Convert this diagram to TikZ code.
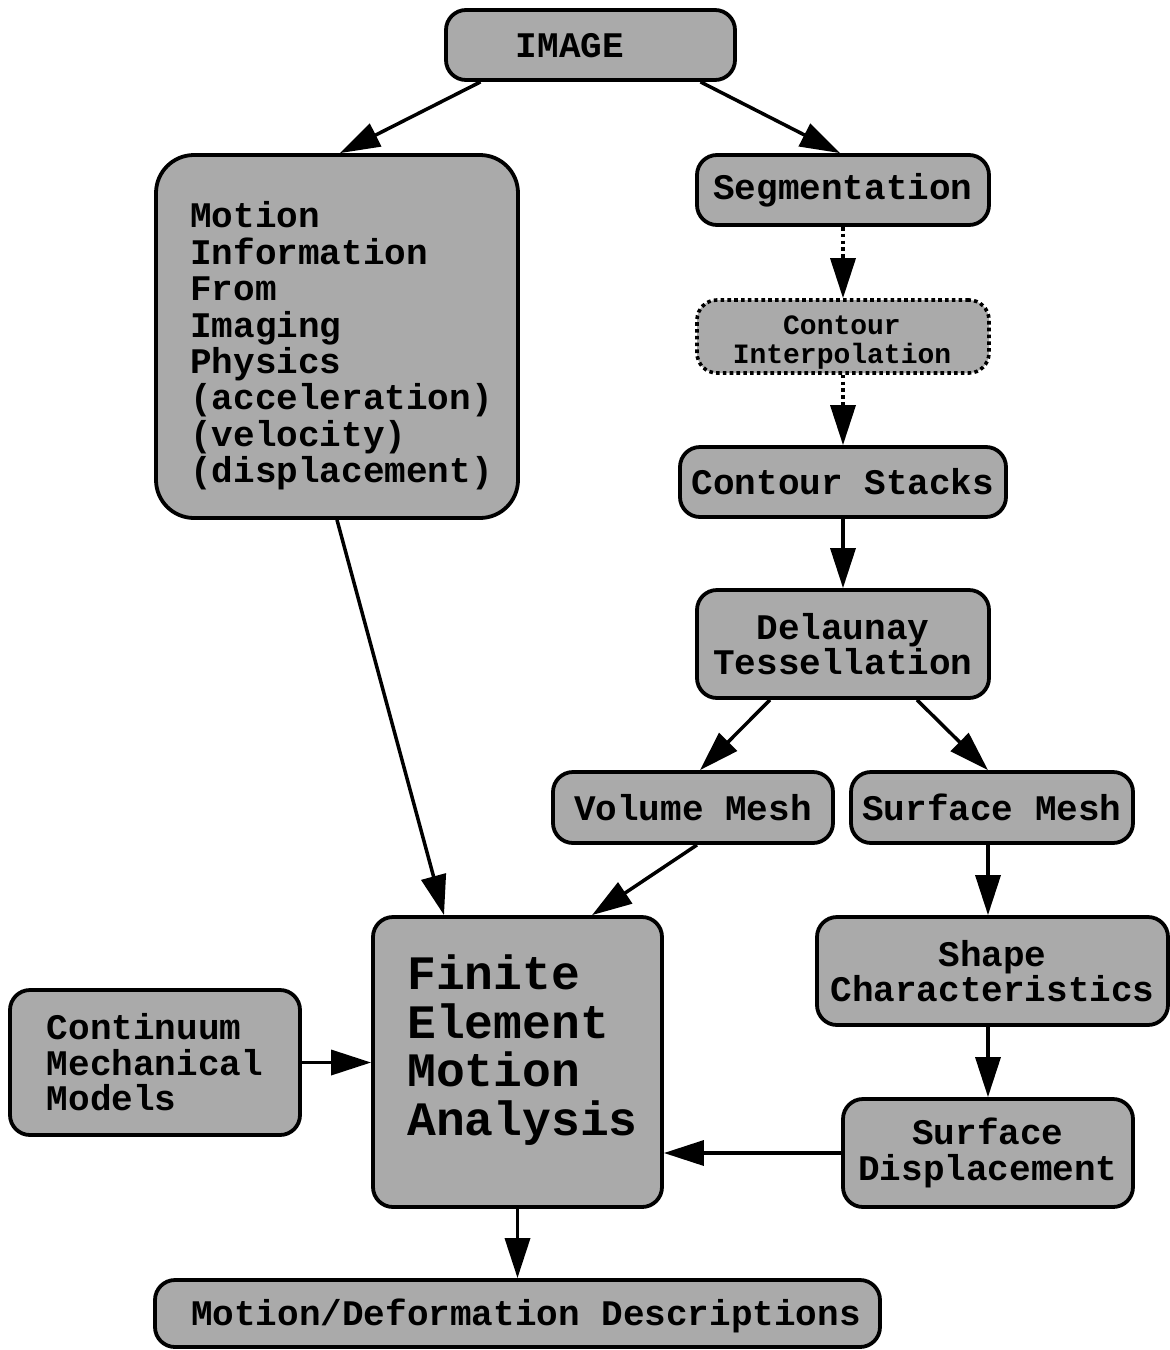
\documentclass[tikz,border=0pt]{standalone}
\usepackage{fontspec}
\newfontfamily\cour{Liberation Mono}
\usetikzlibrary{arrows.meta}
\definecolor{boxgray}{RGB}{170,170,170}
\begin{document}
\begin{tikzpicture}[x=1pt,y=-1pt,
 box/.style={draw, line width=3.8pt, fill=boxgray, rounded corners=20pt, inner sep=0pt},
 dotbox/.style={box, line width=3.6pt, dash pattern=on 3.6pt off 3.2pt},
 txt/.style={font=\cour\bfseries\fontsize{36}{35.5}\selectfont, inner sep=0pt, align=center},
 smalltxt/.style={font=\cour\bfseries\fontsize{28}{29}\selectfont, inner sep=0pt, align=center},
 bigtxt/.style={font=\cour\bfseries\fontsize{48}{48.7}\selectfont, inner sep=0pt, align=left},
 arr/.style={line width=3.5pt, -{Triangle[length=40pt,width=25pt]}},
 dotarr/.style={arr, dash pattern=on 3.6pt off 3.2pt}]
\useasboundingbox (0,0) rectangle (1170,1350);
\fill[white] (0,0) rectangle (1170,1350);

% boxes
\node[box, minimum width=289pt, minimum height=70pt] (image) at (590.5,45) {};
\node[txt] (imaget) at (570,46) {IMAGE};

\node[box, rounded corners=38pt, minimum width=362pt, minimum height=363pt] (motion) at (337,336.5) {};
\node[txt, align=left, anchor=west, font=\cour\bfseries\fontsize{36}{36.4}\selectfont] (motiont) at (190,346)
 {Motion\\Information\\From\\Imaging\\Physics\\(acceleration)\\(velocity)\\(displacement)};

\node[box, minimum width=292pt, minimum height=70pt, txt] (seg) at (843,190) {Segmentation};
\node[dotbox, minimum width=292pt, minimum height=73pt] (interp) at (843,336.5) {};
\node[smalltxt] (interpt) at (842,343) {Contour\\Interpolation};
\node[box, minimum width=326pt, minimum height=70pt, txt] (stacks) at (843,482) {Contour Stacks};
\node[box, minimum width=292pt, minimum height=108pt, txt] (del) at (843,644) {Delaunay\\Tessellation};
\node[box, minimum width=280pt, minimum height=71pt, txt] (vol) at (693,807.5) {Volume Mesh};
\node[box, minimum width=282pt, minimum height=71pt, txt] (surf) at (992,807.5) {Surface Mesh};
\node[box, minimum width=351pt, minimum height=108pt, txt] (shape) at (992.5,971) {Shape\\Characteristics};
\node[box, minimum width=290pt, minimum height=145pt, txt, align=left] (cont) at (155,1062.5) {Continuum\\Mechanical\\Models};

\node[box, minimum width=289pt, minimum height=290pt] (fem) at (517.5,1062) {};
\node[bigtxt, anchor=west] (femt) at (407,1050) {Finite\\Element\\Motion\\Analysis};

\node[box, minimum width=290pt, minimum height=108pt, txt] (disp) at (988,1153) {Surface\\Displacement};

\node[box, minimum width=725pt, minimum height=67pt] (mdef) at (517.5,1313.5) {};
\node[txt] (mdeft) at (526,1316) {Motion/Deformation Descriptions};

% connectors
\draw[arr] ([xshift=-110pt]image.south) -- ([xshift=3pt]motion.north);
\draw[arr] ([xshift=110pt]image.south) -- ([xshift=-3pt]seg.north);
\draw[dotarr] (seg.south) -- (interp.north);
\draw[dotarr] (interp.south) -- (stacks.north);
\draw[arr] (stacks.south) -- (del.north);
\draw[arr] ([xshift=-73pt]del.south) -- ([xshift=7pt]vol.north);
\draw[arr] ([xshift=74pt]del.south) -- ([xshift=-4pt]surf.north);
\draw[arr] ([xshift=-4pt]surf.south) -- ([xshift=-4.5pt]shape.north);
\draw[arr] (disp.north |- shape.south) -- (disp.north);
\draw[arr] (disp.west) -- (fem.east |- disp.west);
\draw[arr] (cont.east) -- (fem.west |- cont.east);
\draw[arr] ([xshift=4pt]vol.south) -- ([xshift=74.5pt]fem.north);
\draw[arr] (motion.south) -- ([xshift=-73.5pt]fem.north);
\draw[arr] (fem.south) -- (mdef.north);
\end{tikzpicture}
\end{document}
